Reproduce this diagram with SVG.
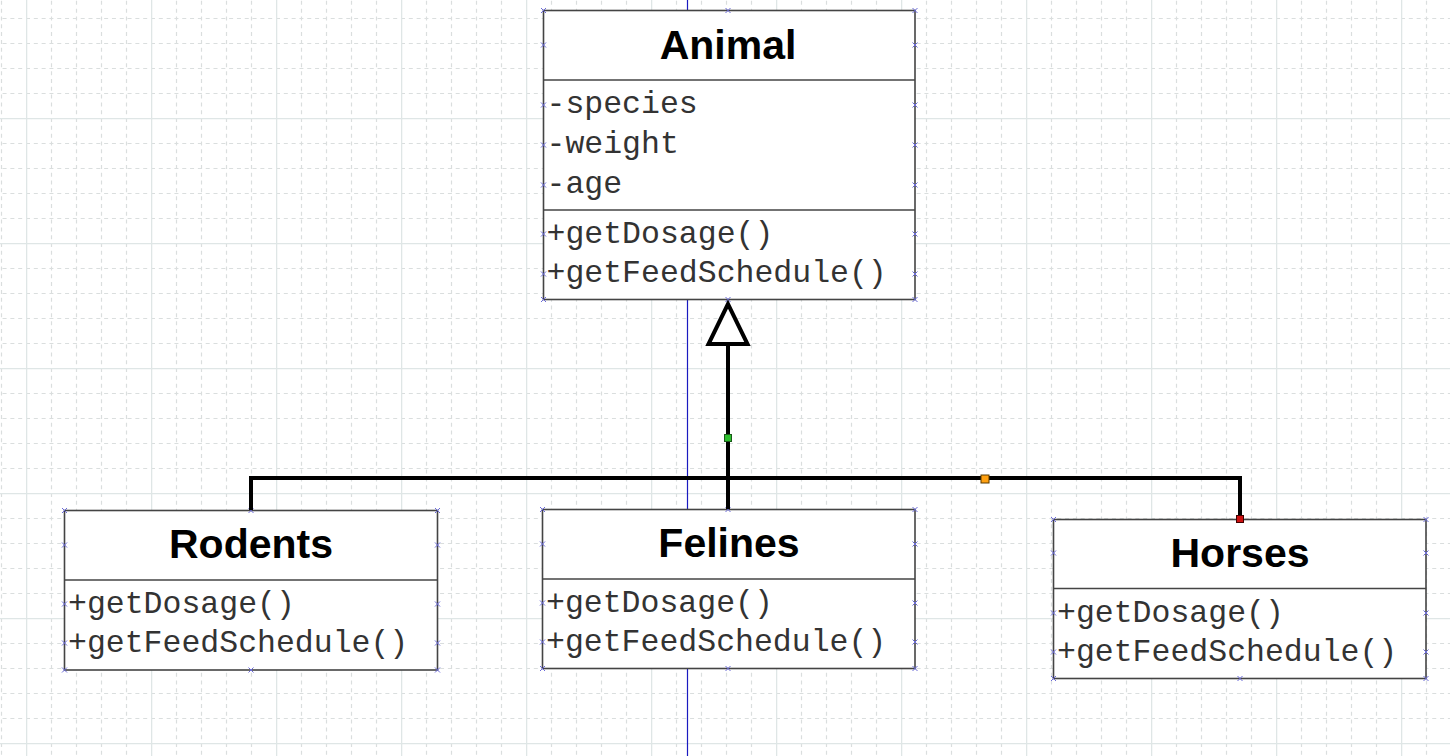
<svg xmlns="http://www.w3.org/2000/svg" width="1450" height="756" viewBox="0 0 1450 756">
<style>
.box{fill:#fff;stroke:#444;stroke-width:1.6}
.div{stroke:#444;stroke-width:1.6}
.title{font-family:"Liberation Sans",Arial,sans-serif;font-weight:bold;font-size:41px;fill:#000;text-anchor:middle}
.mem{font-family:"Courier New","Nimbus Mono PS","FreeMono","Liberation Mono",monospace;font-size:31.5px;fill:#333}
.xm{stroke:#6a6ad8;stroke-width:1;fill:none}
</style>
<defs>
<pattern id="grid" x="26" y="118" width="125" height="125" patternUnits="userSpaceOnUse">
<path d="M25.5,0V125M50.5,0V125M75.5,0V125M100.5,0V125M0,25.5H125M0,50.5H125M0,75.5H125M0,100.5H125" stroke="#dadede" stroke-width="1.2" stroke-dasharray="4 3.8125" fill="none"/>
<path d="M0.5,0V125M0,0.5H125" stroke="#dfe6e6" stroke-width="1.6" fill="none"/>
</pattern>
<path id="x" class="xm" d="M-2.5,-2.5L2.5,2.5M-2.5,2.5L2.5,-2.5"/>
</defs>
<rect width="1450" height="756" fill="#fff"/>
<rect width="1450" height="756" fill="url(#grid)"/>
<line x1="687.5" y1="0" x2="687.5" y2="756" stroke="#1a1ac0" stroke-width="1.2"/>

<g id="Animal">
<rect class="box" x="543.5" y="10.5" width="371.5" height="289"/>
<line class="div" x1="543.5" y1="80" x2="915" y2="80"/>
<line class="div" x1="543.5" y1="210" x2="915" y2="210"/>
<text class="title" x="728" y="59">Animal</text>
<text class="mem" x="546.5" y="113">-species</text>
<text class="mem" x="546.5" y="153">-weight</text>
<text class="mem" x="546.5" y="193">-age</text>
<text class="mem" x="546.5" y="243">+getDosage()</text>
<text class="mem" x="546.5" y="282">+getFeedSchedule()</text>
<use href="#x" x="543.5" y="10.5"/><use href="#x" x="728" y="10.5"/><use href="#x" x="915" y="10.5"/>
<use href="#x" x="543.5" y="299.5"/><use href="#x" x="728" y="299.5"/><use href="#x" x="915" y="299.5"/>
<use href="#x" x="543.5" y="45"/><use href="#x" x="915" y="45"/>
<use href="#x" x="543.5" y="105"/><use href="#x" x="915" y="105"/>
<use href="#x" x="543.5" y="145"/><use href="#x" x="915" y="145"/>
<use href="#x" x="543.5" y="185"/><use href="#x" x="915" y="185"/>
<use href="#x" x="543.5" y="234"/><use href="#x" x="915" y="234"/>
<use href="#x" x="543.5" y="274"/><use href="#x" x="915" y="274"/>
</g>

<g id="Rodents">
<rect class="box" x="64.5" y="510.5" width="373" height="159.5"/>
<line class="div" x1="64.5" y1="580" x2="437.5" y2="580"/>
<text class="title" x="251" y="558">Rodents</text>
<text class="mem" x="68" y="613">+getDosage()</text>
<text class="mem" x="68" y="652">+getFeedSchedule()</text>
<use href="#x" x="64.5" y="510.5"/><use href="#x" x="251" y="510.5"/><use href="#x" x="437.5" y="510.5"/>
<use href="#x" x="64.5" y="670"/><use href="#x" x="251" y="670"/><use href="#x" x="437.5" y="670"/>
<use href="#x" x="64.5" y="545"/><use href="#x" x="437.5" y="545"/>
<use href="#x" x="64.5" y="604"/><use href="#x" x="437.5" y="604"/>
<use href="#x" x="64.5" y="643"/><use href="#x" x="437.5" y="643"/>
</g>

<g id="Felines">
<rect class="box" x="542.5" y="509.5" width="372.5" height="159"/>
<line class="div" x1="542.5" y1="579" x2="915" y2="579"/>
<text class="title" x="729" y="557">Felines</text>
<text class="mem" x="546" y="612">+getDosage()</text>
<text class="mem" x="546" y="651">+getFeedSchedule()</text>
<use href="#x" x="542.5" y="509.5"/><use href="#x" x="728" y="509.5"/><use href="#x" x="915" y="509.5"/>
<use href="#x" x="542.5" y="668.5"/><use href="#x" x="728" y="668.5"/><use href="#x" x="915" y="668.5"/>
<use href="#x" x="542.5" y="544"/><use href="#x" x="915" y="544"/>
<use href="#x" x="542.5" y="603"/><use href="#x" x="915" y="603"/>
<use href="#x" x="542.5" y="642"/><use href="#x" x="915" y="642"/>
</g>

<g id="Horses">
<rect class="box" x="1053.5" y="519.5" width="372.5" height="159"/>
<line class="div" x1="1053.5" y1="588.5" x2="1426" y2="588.5"/>
<text class="title" x="1240" y="567">Horses</text>
<text class="mem" x="1057" y="622">+getDosage()</text>
<text class="mem" x="1057" y="661">+getFeedSchedule()</text>
<use href="#x" x="1053.5" y="519.5"/><use href="#x" x="1426" y="519.5"/>
<use href="#x" x="1053.5" y="678.5"/><use href="#x" x="1240" y="678.5"/><use href="#x" x="1426" y="678.5"/>
<use href="#x" x="1053.5" y="553"/><use href="#x" x="1426" y="553"/>
<use href="#x" x="1053.5" y="613"/><use href="#x" x="1426" y="613"/>
<use href="#x" x="1053.5" y="652"/><use href="#x" x="1426" y="652"/>
</g>

<g id="connectors" fill="none" stroke="#000" stroke-width="4">
<path d="M251,510 V478 H1240 V519"/>
<path d="M728,509 V345"/>
<path d="M728,304 L708.5,344 H747.5 Z" fill="#fff" stroke-linejoin="miter"/>
<rect x="724.5" y="434.5" width="7" height="7" fill="#2ec02e" stroke="#1a5a1a" stroke-width="1"/>
<rect x="981" y="475" width="8" height="8" fill="#ffa010" stroke="#5a3a00" stroke-width="1"/>
<rect x="1236.5" y="515.5" width="7" height="7" fill="#cc1010" stroke="#400000" stroke-width="1"/>
</g>
</svg>
